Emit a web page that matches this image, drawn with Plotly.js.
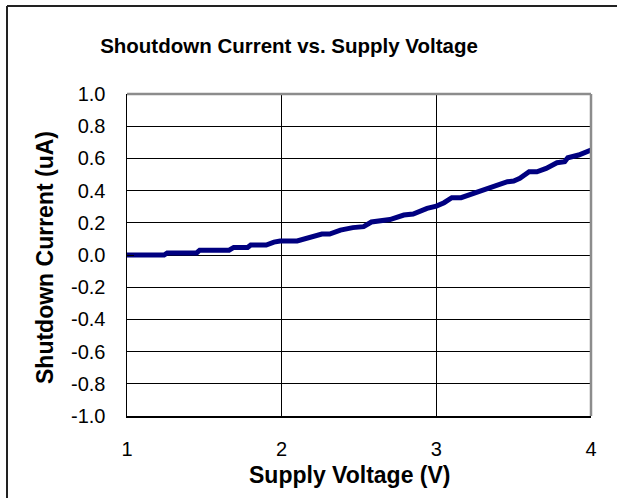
<!DOCTYPE html>
<html>
<head>
<meta charset="utf-8">
<script src="https://cdn.plot.ly/plotly-3.0.1.min.js"></script>
<style>
  html, body { margin: 0; padding: 0; background: #fff; }
  #chart { width: 617px; height: 498px; }
</style>
</head>
<body>
<div id="chart"></div>
<script>
// Data
const supplyVoltage = [1.00, 1.24, 1.26, 1.45, 1.47, 1.66, 1.69, 1.78, 1.80, 1.90, 1.95, 1.99, 2.10, 2.21, 2.26, 2.31, 2.38, 2.46, 2.53, 2.58, 2.62, 2.70, 2.79, 2.85, 2.94, 3.00, 3.05, 3.10, 3.16, 3.24, 3.30, 3.37, 3.46, 3.50, 3.54, 3.60, 3.65, 3.71, 3.78, 3.83, 3.85, 3.92, 3.97, 4.00];
const shutdownCurrent = [0.000, 0.000, 0.013, 0.013, 0.030, 0.030, 0.047, 0.047, 0.062, 0.062, 0.080, 0.087, 0.087, 0.118, 0.130, 0.130, 0.155, 0.170, 0.176, 0.205, 0.210, 0.220, 0.248, 0.255, 0.290, 0.304, 0.325, 0.356, 0.356, 0.383, 0.404, 0.430, 0.455, 0.460, 0.476, 0.517, 0.517, 0.538, 0.573, 0.580, 0.604, 0.621, 0.642, 0.652];
const yTickVals = [-1.0, -0.8, -0.6, -0.4, -0.2, 0.0, 0.2, 0.4, 0.6, 0.8, 1.0];
const yTickText = ["-1.0", "-0.8", "-0.6", "-0.4", "-0.2", "0.0", "0.2", "0.4", "0.6", "0.8", "1.0"];
const xTickVals = [1, 2, 3, 4];
const xTickText = ["1", "2", "3", "4"];
const chartTitle = "Shoutdown Current vs. Supply Voltage";
const xTitle = "Supply Voltage (V)";
const yTitle = "Shutdown Current (uA)";

const W = 617, H = 498;
const M = { l: 127, r: 26, t: 94, b: 82 };
const pw = W - M.l - M.r, ph = H - M.t - M.b;
const px2x = p => (p - M.l) / pw;
const px2y = p => (H - M.b - p) / ph;

const font = "Liberation Sans, Arial, sans-serif";

const trace = {
  x: supplyVoltage,
  y: shutdownCurrent,
  type: "scatter",
  mode: "lines",
  line: { color: "#000080", width: 5 },
  showlegend: false,
  hoverinfo: "skip"
};

const layout = {
  width: W,
  height: H,
  margin: M,
  paper_bgcolor: "#ffffff",
  plot_bgcolor: "#ffffff",
  showlegend: false,
  title: {
    text: "<b>" + chartTitle + "</b>",
    font: { family: font, size: 20.5, color: "#000" },
    xref: "paper", x: px2x(289), xanchor: "center",
    yref: "container", y: 1 - 46 / H, yanchor: "middle"
  },
  xaxis: {
    range: [1, 4],
    tickvals: xTickVals,
    ticktext: xTickText,
    showgrid: true,
    gridcolor: "#000",
    gridwidth: 1,
    zeroline: false,
    showline: true,
    linecolor: "#000",
    linewidth: 1.5,
    ticks: "",
    ticklabelstandoff: 14,
    tickfont: { family: font, size: 20, color: "#000" },
    fixedrange: true
  },
  yaxis: {
    range: [-1, 1],
    tickvals: yTickVals,
    ticktext: yTickText,
    showgrid: true,
    gridcolor: "#000",
    gridwidth: 1,
    zeroline: false,
    showline: true,
    linecolor: "#000",
    linewidth: 1.5,
    ticks: "inside",
    ticklen: 7,
    tickcolor: "#000",
    ticklabelstandoff: 16,
    tickfont: { family: font, size: 20, color: "#000" },
    fixedrange: true
  },
  annotations: [
    { text: "<b>" + xTitle + "</b>", xref: "paper", yref: "paper",
      x: px2x(349), y: px2y(475), xanchor: "center", yanchor: "middle",
      showarrow: false, font: { family: font, size: 23, color: "#000" } },
    { text: "<b>" + yTitle + "</b>", xref: "paper", yref: "paper",
      x: px2x(45), y: px2y(258), xanchor: "center", yanchor: "middle",
      textangle: -90,
      showarrow: false, font: { family: font, size: 23, color: "#000" } }
  ],
  shapes: [
    // gray plot-area border on top and right
    { type: "line", xref: "paper", yref: "paper", x0: 0, x1: 1, y0: 1, y1: 1,
      line: { color: "#8c8c8c", width: 2.5 } },
    { type: "line", xref: "paper", yref: "paper", x0: 1, x1: 1, y0: 0, y1: 1,
      line: { color: "#8c8c8c", width: 2.5 } },
    // outer chart border (left and top)
    { type: "line", xref: "paper", yref: "paper",
      x0: px2x(7), x1: px2x(7), y0: px2y(6), y1: px2y(H + 5),
      line: { color: "#222", width: 2 } },
    { type: "line", xref: "paper", yref: "paper",
      x0: px2x(7), x1: px2x(W + 5), y0: px2y(6), y1: px2y(6),
      line: { color: "#222", width: 2 } }
  ]
};

Plotly.newPlot("chart", [trace], layout, { staticPlot: true, displayModeBar: false });
</script>
</body>
</html>
